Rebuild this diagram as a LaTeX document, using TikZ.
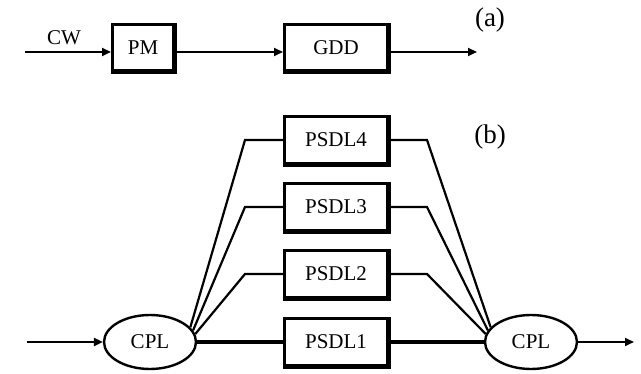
\documentclass[tikz,border=0pt]{standalone}
\usepackage{fontspec}
\setmainfont{Liberation Serif}
\usetikzlibrary{arrows.meta,shapes.geometric}
\begin{document}
\begin{tikzpicture}[x=1pt,y=-1pt,
  txt/.style={font=\fontsize{21}{21}\selectfont},
  blk/.style={draw,line width=2.6pt,inner sep=0pt,txt},
  cpl/.style={ellipse,draw,line width=2.4pt,minimum width=92pt,minimum height=54pt,inner sep=0pt,txt},
  conn/.style={line width=2.2pt},
  fat/.style={line width=4pt},
  arr/.style={line width=2.2pt,-{Triangle[length=9pt,width=8pt]}},
  shade/.style={line width=2.4pt},
  tag/.style={font=\fontsize{27}{27}\selectfont,inner sep=0pt}]
\useasboundingbox (0,0) rectangle (641,374);

% (a)
\node[blk,minimum width=61.4pt,minimum height=46.4pt] (pm) at (143,47.5) {PM};
\node[blk,minimum width=103.4pt,minimum height=46.4pt] (gdd) at (336,47.5) {GDD};
\coordinate (cwin) at (25,52);
\coordinate (aout) at (477,52);
\node[txt,inner sep=0pt] (cw) at (64,38) {CW};
\node[tag] (la) at (490,20) {(a)};
\draw[arr] (cwin) -- (cwin -| pm.west);
\draw[arr] (pm.east |- cwin) -- (gdd.west |- cwin);
\draw[arr] (gdd.east |- cwin) -- (aout);

% (b)
\node[blk,minimum width=103.4pt,minimum height=47.4pt] (p4) at (336,140) {PSDL4};
\node[blk,minimum width=103.4pt,minimum height=47.4pt] (p3) at (336,207) {PSDL3};
\node[blk,minimum width=103.4pt,minimum height=47.4pt] (p2) at (336,274) {PSDL2};
\node[blk,minimum width=103.4pt,minimum height=47.4pt] (p1) at (336,342) {PSDL1};
\node[cpl] (cl) at (150,342) {CPL};
\node[cpl] (cr) at (531,342) {CPL};
\node[tag] (lb) at (490,137) {(b)};
\coordinate (bin) at (27,342);
\coordinate (bout) at (634,342);

\foreach \n in {pm,gdd,p1,p2,p3,p4}
  \draw[shade] ([yshift=-0.6pt]\n.south west) -- ([xshift=0.6pt,yshift=-0.6pt]\n.south east) -- ([xshift=0.6pt]\n.north east);

\draw[arr] (bin) -- (cl.west);
\draw[arr] (cr.east) -- (bout);

\draw[conn] (p4.west) -- ++(-38,0) -- (cl.20);
\draw[conn] (p3.west) -- ++(-38,0) -- (cl.15);
\draw[conn] (p2.west) -- ++(-38,0) -- (cl.10);
\draw[fat] (cl.east) -- (p1.west);

\draw[conn] (p4.east) -- ++(38,0) -- (cr.160);
\draw[conn] (p3.east) -- ++(38,0) -- (cr.165);
\draw[conn] (p2.east) -- ++(38,0) -- (cr.170);
\draw[fat] (p1.east) -- (cr.west);
\end{tikzpicture}
\end{document}
